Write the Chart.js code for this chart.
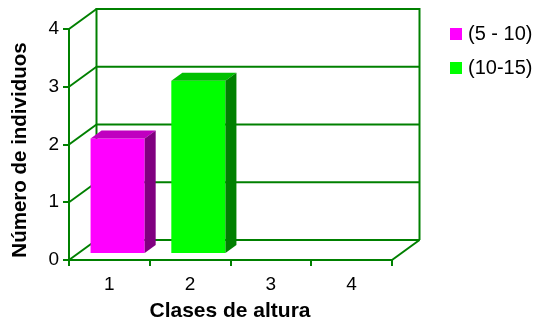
<!DOCTYPE html>
<html>
<head>
<meta charset="utf-8">
<script src="https://cdn.jsdelivr.net/npm/chart.js@4"></script>
<style>
  html, body { margin: 0; padding: 0; background: #ffffff; overflow: hidden; }
  canvas { display: block; }
</style>
</head>
<body>
<canvas id="chart" width="535" height="322"></canvas>
<script>
// Número de individuos por clase de altura
const categories = ['1', '2', '3', '4'];
const seriesNames = ['(5 - 10)', '(10-15)'];
const clase5a10 = [2, 0, 0, 0];
const clase10a15 = [0, 3, 0, 0];
const yTickValues = [0, 1, 2, 3, 4];
const xTitle = 'Clases de altura';
const yTitle = 'Número de individuos';

const FONT = '"Liberation Sans", Arial, Helvetica, sans-serif';
const GRID = '#008000';
const WALL = { dx: 27.5, dy: -20 };      // depth of the 3D box
const BAR_SHIFT = 0.3;                   // bars sit a little behind the front plane
const BAR_DEPTH = 0.4;                   // thickness of each 3D column
const FACES = [
  { front: '#FF00FF', top: '#C000C0', side: '#800080' },
  { front: '#00FF00', top: '#00C000', side: '#008000' }
];

function line(ctx, x1, y1, x2, y2) {
  ctx.beginPath();
  ctx.moveTo(x1, y1);
  ctx.lineTo(x2, y2);
  ctx.stroke();
}

const box3d = {
  id: 'box3d',
  beforeDatasetsDraw(chart) {
    const { ctx } = chart;
    const xs = chart.scales.x, ys = chart.scales.y;
    const { dx, dy } = WALL;
    ctx.save();
    ctx.strokeStyle = GRID;
    ctx.lineWidth = 2;
    ctx.lineCap = 'butt';
    // back wall gridlines and left wall diagonals
    yTickValues.forEach(v => {
      const y = ys.getPixelForValue(v);
      line(ctx, xs.left + dx, y + dy, xs.right + dx, y + dy);
      line(ctx, xs.left, y, xs.left + dx, y + dy);
    });
    // back wall edges
    line(ctx, xs.left + dx, ys.top + dy - 1, xs.left + dx, ys.bottom + dy);
    line(ctx, xs.right + dx, ys.top + dy - 1, xs.right + dx, ys.bottom + dy);
    // floor right edge
    line(ctx, xs.right, ys.bottom, xs.right + dx, ys.bottom + dy);
    ctx.restore();

    // columns are placed inside the box
    ctx.save();
    ctx.translate(dx * BAR_SHIFT, dy * BAR_SHIFT);
  },
  afterDatasetsDraw(chart) {
    const { ctx } = chart;
    const ddx = WALL.dx * BAR_DEPTH, ddy = WALL.dy * BAR_DEPTH;
    chart.data.datasets.forEach((ds, i) => {
      const meta = chart.getDatasetMeta(i);
      const face = FACES[i];
      meta.data.forEach(el => {
        const { x, y, base, width } = el.getProps(['x', 'y', 'base', 'width'], true);
        if (Math.abs(base - y) < 0.5) return;
        const l = x - width / 2, r = x + width / 2;
        ctx.fillStyle = face.top;
        ctx.beginPath();
        ctx.moveTo(l, y);
        ctx.lineTo(r, y);
        ctx.lineTo(r + ddx, y + ddy);
        ctx.lineTo(l + ddx, y + ddy);
        ctx.closePath();
        ctx.fill();
        ctx.fillStyle = face.side;
        ctx.beginPath();
        ctx.moveTo(r, y);
        ctx.lineTo(r + ddx, y + ddy);
        ctx.lineTo(r + ddx, base + ddy);
        ctx.lineTo(r, base);
        ctx.closePath();
        ctx.fill();
      });
    });
    ctx.restore();
  },
  afterDraw(chart) {
    const { ctx } = chart;
    ctx.save();
    ctx.fillStyle = '#000000';
    // axis titles
    ctx.font = 'bold 21px ' + FONT;
    ctx.textAlign = 'center';
    ctx.textBaseline = 'middle';
    ctx.fillText(xTitle, 230, 311);
    ctx.save();
    ctx.translate(20.5, 150);
    ctx.rotate(-Math.PI / 2);
    ctx.font = 'bold 20.5px ' + FONT;
    ctx.fillText(yTitle, 0, 0);
    ctx.restore();
    // legend
    ctx.font = '20px ' + FONT;
    ctx.textAlign = 'left';
    chart.data.datasets.forEach((ds, i) => {
      const top = 28 + i * 34;
      ctx.fillStyle = ds.backgroundColor;
      ctx.fillRect(450, top, 12, 12);
      ctx.fillStyle = '#000000';
      ctx.fillText(ds.label, 468, top + 6);
    });
    ctx.restore();
  }
};

new Chart(document.getElementById('chart'), {
  type: 'bar',
  data: {
    labels: categories,
    datasets: [
      { label: seriesNames[0], data: clase5a10, backgroundColor: FACES[0].front },
      { label: seriesNames[1], data: clase10a15, backgroundColor: FACES[1].front }
    ]
  },
  options: {
    responsive: false,
    animation: false,
    devicePixelRatio: 1,
    layout: { padding: { left: 0, top: 29, right: 143, bottom: 0 } },
    datasets: {
      bar: { borderWidth: 0, categoryPercentage: 1, barPercentage: 0.67 }
    },
    plugins: {
      legend: { display: false },
      tooltip: { enabled: false },
      title: { display: false }
    },
    scales: {
      x: {
        stacked: true,
        offset: true,
        grid: {
          drawOnChartArea: false,
          drawTicks: true,
          tickLength: 6,
          color: GRID,
          lineWidth: 2,
          offset: true
        },
        border: { display: true, color: GRID, width: 2 },
        ticks: { color: '#000000', font: { family: FONT, size: 19 }, padding: 7 },
        afterFit(scale) { scale.height = 62; }
      },
      y: {
        stacked: true,
        min: 0,
        max: 4,
        grid: {
          drawOnChartArea: false,
          drawTicks: true,
          tickLength: 6,
          color: GRID,
          lineWidth: 2
        },
        border: { display: true, color: GRID, width: 2 },
        ticks: {
          stepSize: 1,
          color: '#000000',
          font: { family: FONT, size: 19 },
          padding: 4
        },
        afterBuildTicks(scale) { scale.ticks = yTickValues.map(v => ({ value: v })); },
        afterFit(scale) { scale.width = 69; }
      }
    }
  },
  plugins: [box3d]
});
</script>
</body>
</html>
